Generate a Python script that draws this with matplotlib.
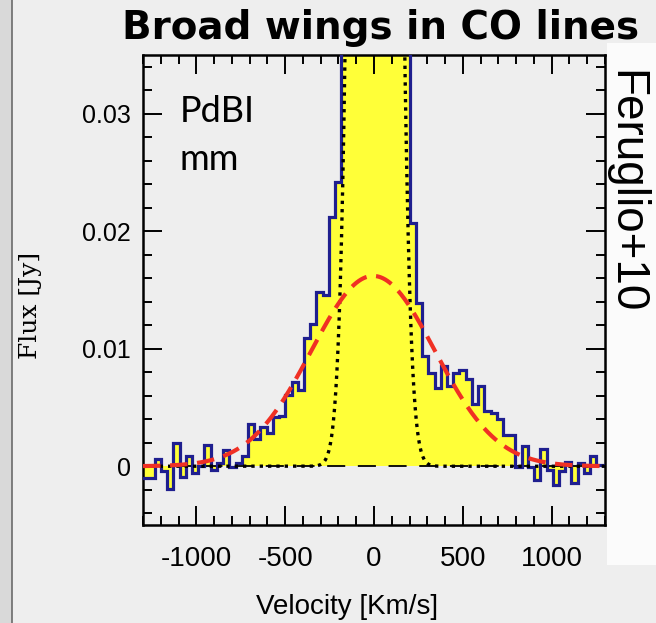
import numpy as np
import matplotlib.pyplot as plt
from matplotlib.patches import Rectangle
from matplotlib.lines import Line2D
from matplotlib.ticker import MultipleLocator

plt.rcParams['axes.unicode_minus'] = False

# CO spectrum, 35 km/s channels (edges in km/s), flux in Jy
edges = np.arange(-1304, 1322, 35)
flux_blue_wing = [-0.0010, -0.0010, 0.0006, -0.0004, -0.0019, 0.0020, -0.0009, 0.0009,
                  -0.0006, 0.0000, 0.0018, -0.0003, 0.0003, 0.0014, -0.0001, 0.0003,
                  0.0009, 0.0036, 0.0023, 0.0033, 0.0028, 0.0042, 0.0043, 0.0061,
                  0.0072, 0.0065, 0.0109, 0.0121, 0.0148, 0.0146, 0.0212, 0.0242]
flux_core = [0.047, 0.095, 0.17, 0.26, 0.34, 0.38, 0.37, 0.31, 0.22, 0.13, 0.065]
flux_red_wing = [0.0207, 0.0139, 0.0094, 0.0079, 0.0067, 0.0085, 0.0068, 0.0079,
                 0.0082, 0.0074, 0.0053, 0.0068, 0.0047, 0.0045, 0.0040, 0.0027,
                 0.0027, -0.0001, 0.0017, -0.0001, -0.0012, 0.0015, -0.0003, -0.0016,
                 -0.0004, 0.0004, -0.0014, 0.0003, -0.0006, 0.0009, 0.0001, 0.0001]
flux = np.array(flux_blue_wing + flux_core + flux_red_wing)

# gaussian fit components: peak [Jy], centre [km/s], sigma [km/s]
narrow = (0.38, 5, 77)
broad = (0.0162, -5, 348)

xticks = [-1000, -500, 0, 500, 1000]
yticks = [0, 0.01, 0.02, 0.03]
ylabels = ['0', '0.01', '0.02', '0.03']


def gauss(v, p):
    return p[0] * np.exp(-(v - p[1]) ** 2 / (2 * p[2] ** 2))


W, H = 656, 623
fig = plt.figure(figsize=(W / 100, H / 100), dpi=100, facecolor='#eeeeee')
fig.patches.append(Rectangle((0, 0), 12 / W, 1, transform=fig.transFigure,
                             facecolor='#d9d9d9', edgecolor='none', zorder=0))
fig.add_artist(Line2D([12 / W, 12 / W], [0, 1], color='#6a6a6a', lw=1.2))
fig.patches.append(Rectangle((607 / W, 1 - 565 / H), 49 / W, 522 / H,
                             transform=fig.transFigure, facecolor='#fbfbfb',
                             edgecolor='none', zorder=0))

ax = fig.add_axes([143 / W, 1 - 525 / H, 462 / W, 470 / H])
ax.set_facecolor('none')

ax.stairs(flux, edges, fill=True, color='#ffff38', baseline=0, zorder=1)
ax.axhline(0, color='black', lw=1.3, dashes=(10, 7), zorder=2)
ax.stairs(flux, edges, color='#1f1f8f', lw=2.3, baseline=None, zorder=3)
v = np.linspace(-1300, 1300, 2000)
ax.plot(v, gauss(v, narrow), color='black', lw=2.4, linestyle=(0, (1, 1.5)), zorder=4)
ax.plot(v, gauss(v, broad), color='#f03024', lw=3.0, linestyle=(0, (4.2, 2.3)), zorder=5)

ax.set_xlim(-1300, 1300)
ax.set_ylim(-0.005, 0.035)
ax.set_xticks(xticks)
ax.set_yticks(yticks)
ax.set_yticklabels(ylabels)
ax.xaxis.set_minor_locator(MultipleLocator(100))
ax.yaxis.set_minor_locator(MultipleLocator(0.002))
ax.tick_params(which='both', direction='in', top=True, right=True, width=1.4)
ax.tick_params(which='major', length=13.5)
ax.tick_params(which='minor', length=6.5)
ax.tick_params(axis='x', pad=15, labelsize=20)
ax.tick_params(axis='y', pad=9, labelsize=18)
for lab in ax.get_xticklabels() + ax.get_yticklabels():
    lab.set_family('Liberation Sans')
for s in ax.spines.values():
    s.set_linewidth(1.8)

fig.text(180 / W, 1 - 122 / H, 'PdBI', fontsize=26, family='Lato', va='baseline')
fig.text(180 / W, 1 - 170 / H, 'mm', fontsize=26, family='Lato', va='baseline')

fig.text(122 / W, 1 - 39 / H, 'Broad wings in CO lines', fontsize=28,
         family='DejaVu Sans', weight='bold', va='baseline')
fig.text(625 / W, 1 - 70 / H, 'Feruglio+10', fontsize=33, family='Liberation Sans',
         rotation=270, ha='center', va='top')
fig.text(347 / W, 1 - 607 / H, 'Velocity [Km/s]', fontsize=20,
         family='Liberation Sans', ha='center', va='center')
fig.text(31 / W, 1 - 305 / H, 'Flux [Jy]', fontsize=18, family='DejaVu Serif',
         rotation=90, ha='center', va='center')

fig.savefig('out.png', dpi=100, facecolor=fig.get_facecolor())
